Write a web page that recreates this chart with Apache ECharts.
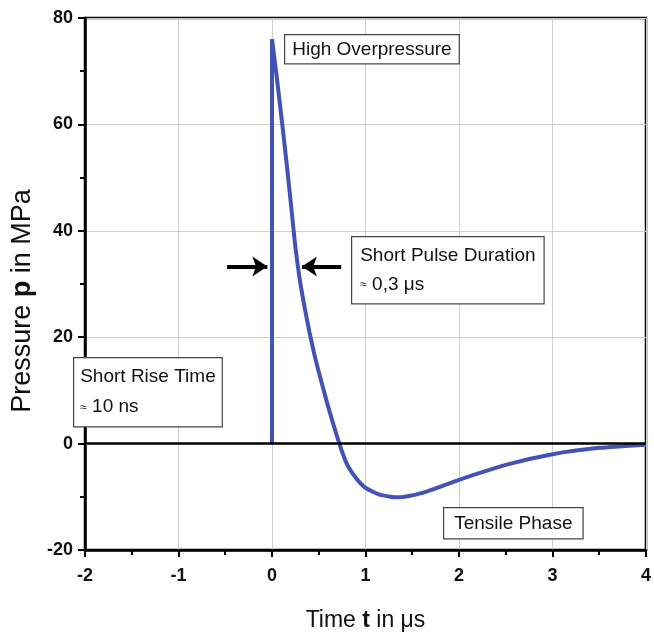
<!DOCTYPE html>
<html>
<head>
<meta charset="utf-8">
<script src="https://cdn.jsdelivr.net/npm/echarts@6/dist/echarts.min.js"></script>
<style>
  html, body { margin: 0; padding: 0; background: #fff; }
  #chart { width: 654px; height: 637px; }
</style>
</head>
<body>
<div id="chart"></div>
<script>
// 坐标轴刻度
const xTicks = [-2, -1, 0, 1, 2, 3, 4];
const yTicks = [-20, 0, 20, 40, 60, 80];

// 上升沿 (t=0 垂直)
const riseT = [0, 0];
const riseP = [0, 76];

// 压力波形 t (μs) / p (MPa)
const pulseT = [0, 0.05, 0.11, 0.17, 0.22, 0.25, 0.30, 0.35, 0.40, 0.45, 0.50, 0.55, 0.60, 0.65, 0.72, 0.80, 0.90, 1.0, 1.15, 1.35, 1.6, 2.0, 2.5, 3.0, 3.5, 4.0];
const pulseP = [76, 69, 60, 50.5, 42, 37, 30.5, 25.5, 21, 17, 13.5, 10.2, 7.0, 4.0, 0, -3.8, -6.5, -8.3, -9.6, -10.1, -9.3, -6.8, -4.0, -2.0, -0.8, -0.2];

// 箭头 (脉宽标注)
const arrowY = 33.3;
const arrowLeft = [-0.48, -0.05];
const arrowRight = [0.74, 0.32];

const font = "'Liberation Sans', Arial, sans-serif";
const lineColor = "#4352b4";

const chart = echarts.init(document.getElementById("chart"));

const option = {
  backgroundColor: "#fff",
  animation: false,
  grid: {
    left: 85,
    right: 2,
    top: 18,
    bottom: 81,
    show: true,
    borderColor: "#000",
    borderWidth: 2.5,
  },
  xAxis: {
    type: "value",
    min: xTicks[0],
    max: xTicks[xTicks.length - 1],
    interval: 1,
    name: "Time {b|t} in μs",
    nameLocation: "middle",
    nameGap: 59,
    nameTextStyle: {
      fontFamily: font,
      fontSize: 23,
      color: "#111",
      rich: { b: { fontFamily: font, fontSize: 23, fontWeight: "bold", color: "#111" } },
    },
    axisLine: { onZero: false, lineStyle: { color: "#000", width: 2.5 } },
    axisTick: { length: 7, lineStyle: { color: "#000", width: 2 } },
    minorTick: { show: true, splitNumber: 2, length: 5, lineStyle: { color: "#000", width: 2 } },
    axisLabel: { margin: 17, fontFamily: font, fontSize: 18, fontWeight: "bold", color: "#111" },
    splitLine: { show: true, lineStyle: { color: "#cfcfcf", width: 1 } },
  },
  yAxis: {
    type: "value",
    min: yTicks[0],
    max: yTicks[yTicks.length - 1],
    interval: 20,
    name: "Pressure {b|p} in MPa",
    nameLocation: "middle",
    nameGap: 48,
    nameTextStyle: {
      fontFamily: font,
      fontSize: 27,
      color: "#111",
      padding: [0, 0, 0, -34],
      rich: { b: { fontFamily: font, fontSize: 27, fontWeight: "bold", color: "#111" } },
    },
    axisLine: { onZero: false, lineStyle: { color: "#000", width: 2.5 } },
    axisTick: { length: 7, lineStyle: { color: "#000", width: 2 } },
    minorTick: { show: true, splitNumber: 2, length: 5, lineStyle: { color: "#000", width: 2 } },
    axisLabel: { margin: 12, fontFamily: font, fontSize: 18, fontWeight: "bold", color: "#111" },
    splitLine: { show: true, lineStyle: { color: "#cfcfcf", width: 1 } },
  },
  series: [
    {
      name: "rise",
      type: "line",
      symbol: "none",
      lineStyle: { color: lineColor, width: 4 },
      data: riseT.map((t, i) => [t, riseP[i]]),
      z: 3,
    },
    {
      name: "pulse",
      type: "line",
      symbol: "none",
      smooth: 0.2,
      lineStyle: { color: lineColor, width: 4 },
      data: pulseT.map((t, i) => [t, pulseP[i]]),
      z: 3,
      markLine: {
        silent: true,
        animation: false,
        label: { show: false },
        data: [
          // 零线
          [
            { coord: [xTicks[0], 0], symbol: "none", lineStyle: { color: "#000", width: 2.5, type: "solid" } },
            { coord: [xTicks[xTicks.length - 1], 0], symbol: "none" },
          ],
          // 左箭头
          [
            { coord: [arrowLeft[0], arrowY], symbol: "none", lineStyle: { color: "#000", width: 4, type: "solid" } },
            { coord: [arrowLeft[1], arrowY], symbol: "arrow", symbolSize: [15, 15] },
          ],
          // 右箭头
          [
            { coord: [arrowRight[0], arrowY], symbol: "none", lineStyle: { color: "#000", width: 4, type: "solid" } },
            { coord: [arrowRight[1], arrowY], symbol: "arrow", symbolSize: [15, 15] },
          ],
        ],
      },
    },
  ],
  graphic: [
    {
      type: "text",
      left: 284,
      top: 34,
      z: 10,
      style: {
        text: "High Overpressure",
        font: "19px " + font,
        fill: "#111",
        backgroundColor: "#fff",
        borderColor: "#444",
        borderWidth: 1.2,
        padding: [5, 7, 4, 7],
      },
    },
    {
      type: "text",
      left: 351,
      top: 236,
      z: 10,
      style: {
        text: "Short Pulse Duration\n{s|≈} 0,3 μs",
        font: "19px " + font,
        fill: "#111",
        lineHeight: 29,
        backgroundColor: "#fff",
        borderColor: "#444",
        borderWidth: 1.2,
        padding: [4, 8, 4, 8],
        rich: { s: { font: "12px " + font, fill: "#111" } },
      },
    },
    {
      type: "text",
      left: 73,
      top: 357,
      z: 10,
      style: {
        text: "Short Rise Time\n{s|≈} 10 ns",
        font: "19px " + font,
        fill: "#111",
        lineHeight: 30,
        backgroundColor: "#fff",
        borderColor: "#444",
        borderWidth: 1.2,
        padding: [4, 6, 4, 6],
        rich: { s: { font: "12px " + font, fill: "#111" } },
      },
    },
    {
      type: "text",
      left: 443,
      top: 507,
      z: 10,
      style: {
        text: "Tensile Phase",
        font: "19px " + font,
        fill: "#111",
        backgroundColor: "#fff",
        borderColor: "#444",
        borderWidth: 1.2,
        padding: [6, 10, 5, 10],
      },
    },
  ],
};

chart.setOption(option);
</script>
</body>
</html>
